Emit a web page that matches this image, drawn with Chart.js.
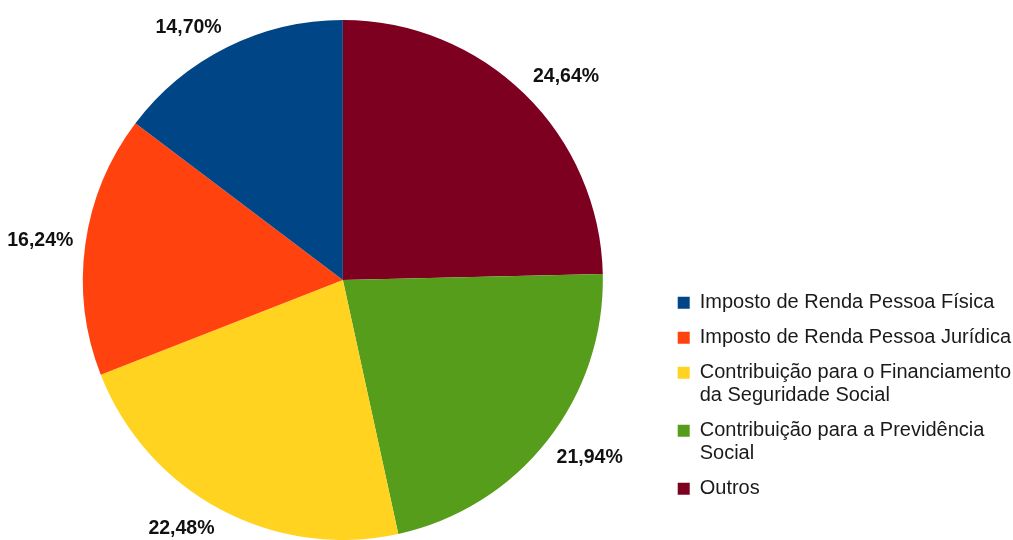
<!DOCTYPE html>
<html>
<head>
<meta charset="utf-8">
<script src="https://cdn.jsdelivr.net/npm/chart.js@4.4.0/dist/chart.umd.min.js"></script>
<style>
html, body { margin: 0; background: #fff; }
#wrap { width: 1013px; height: 540px; }
</style>
</head>
<body>
<div id="wrap"><canvas id="chart"></canvas></div>
<script>
// legend order, as in the source
var categories = [
    ["Imposto de Renda Pessoa Física"],
    ["Imposto de Renda Pessoa Jurídica"],
    ["Contribuição para o Financiamento", "da Seguridade Social"],
    ["Contribuição para a Previdência", "Social"],
    ["Outros"]
];
var shares = [14.70, 16.24, 22.48, 21.94, 24.64];
var colors = ["#004586", "#ff420e", "#ffd320", "#579d1c", "#7e0021"];

// the source pie runs counter-clockwise, chart.js runs clockwise -> flip data, flip legend back
var pieLabels = categories.slice().reverse();
var pieData = shares.slice().reverse();
var pieColors = colors.slice().reverse();

function fmtPct(v) {
    return v.toFixed(2).replace(".", ",") + "%";
}

// percentage labels just outside each slice, box corner at the anchor point
var pctLabels = {
    id: "pctLabels",
    afterDatasetsDraw: function(chart) {
        var ctx = chart.ctx;
        var meta = chart.getDatasetMeta(0);
        ctx.save();
        ctx.font = 'bold 19.5px "Liberation Sans", Arial, sans-serif';
        ctx.fillStyle = "#111";
        ctx.textAlign = "center";
        ctx.textBaseline = "middle";
        meta.data.forEach(function(arc, i) {
            var p = arc.getProps(["x", "y", "startAngle", "endAngle", "outerRadius"], true);
            var mid = (p.startAngle + p.endAngle) / 2;
            var dx = Math.cos(mid), dy = Math.sin(mid);
            var d = p.outerRadius + 12;
            var txt = fmtPct(pieData[i]);
            var w = ctx.measureText(txt).width;
            var h = 18;
            var oy = Math.max(-1, Math.min(1, dy * 2));
            ctx.fillText(txt, p.x + dx * d + Math.sign(dx) * w / 2, p.y + dy * d + oy * h / 2);
        });
        ctx.restore();
    }
};

const ctx = document.getElementById("chart").getContext("2d");
const chart = new Chart(ctx, {
    type: "pie",
    data: {
        labels: pieLabels,
        datasets: [{
            data: pieData,
            backgroundColor: pieColors,
            borderWidth: 0
        }]
    },
    options: {
        responsive: true,
        maintainAspectRatio: false,
        animation: false,
        layout: { padding: { top: 20, left: 20, right: -8 } },
        plugins: {
            tooltip: { enabled: false },
            legend: {
                position: "right",
                reverse: true,
                title: { display: true, text: "", padding: { top: 220, bottom: 0 } },
                labels: {
                    boxWidth: 12,
                    boxHeight: 12,
                    padding: 12,
                    color: "#1a1a1a",
                    font: { family: '"Liberation Sans", Arial, sans-serif', size: 20, lineHeight: 1.15 }
                }
            }
        }
    },
    plugins: [pctLabels]
});
</script>
</body>
</html>
